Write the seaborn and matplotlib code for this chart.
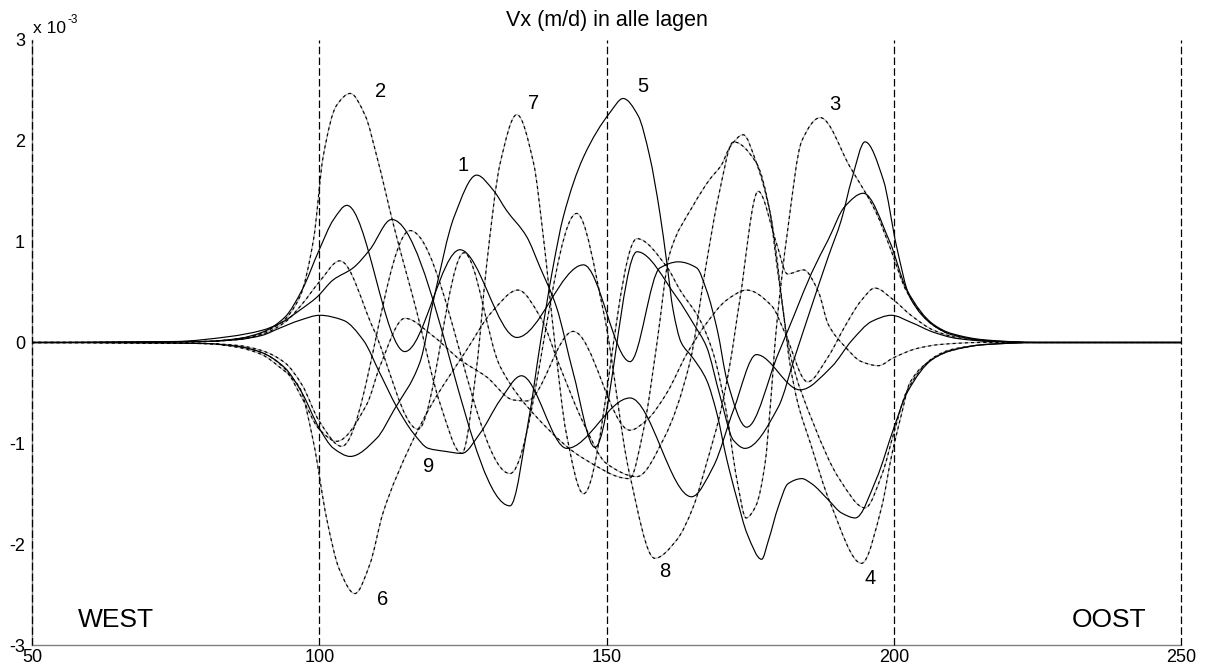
import numpy as np
import matplotlib
matplotlib.use("Agg")
import matplotlib.pyplot as plt
from matplotlib.path import Path
from matplotlib.patches import PathPatch
import seaborn as sns

# ---------------- data (Vx in units of 1e-3 m/d), knots ----------------
x_c9 = [50, 80, 86, 90, 93, 96.6, 100.1, 104.2, 107.7, 110.6, 113.5, 116.4, 119, 122, 124.8, 128, 131.5,
        135.2, 143.1, 154.1, 164.8, 168.6, 172.1, 176.1, 183.7, 189.2, 192.7, 196.2, 199.6, 203, 207, 211, 217, 225, 250]
y_c9 = [0, 0.01, 0.03, 0.07, 0.14, 0.22, 0.27, 0.22, 0.02, -0.31, -0.64, -0.90, -1.05, -1.08, -1.10, -0.90, -0.57,
        -0.33, -1.05, -0.55, -1.53, -1.23, -0.67, -0.12, -0.47, -0.24, 0.02, 0.21, 0.27, 0.2, 0.1, 0.04, 0.01, 0, 0]

x_c2 = [50, 80, 87.4, 93.2, 96.6, 99, 100.7, 103, 105.4, 108, 110, 113, 117, 121, 124.8, 127.4, 129.1, 131.5, 134.4,
        137.3, 139, 141, 143, 146, 155.3, 160.5, 162.8, 166.3, 168.6, 170.9, 172.7, 174.3, 176, 177.6, 178.5, 179.5, 181.5,
        184, 187.2, 192.4, 197, 199.3, 202.3, 206.9, 210, 216, 225, 250]
y_c2 = [0, 0.01, 0.05, 0.19, 0.45, 1.02, 1.85, 2.35, 2.47, 2.25, 1.85, 1.15, 0.3, -0.6, -1.10, -0.24, 0.75, 1.78, 2.26,
        1.78, 1.05, 0.0, -0.9, -1.50, 1.03, 0.75, 0.52, 0.22, -0.11, -0.70, -1.36, -1.74, -1.62, -1.2, -0.64, 0.1, 1.1,
        2.0, 2.23, 1.74, 1.28, 0.95, 0.5, 0.17, 0.08, 0.02, 0, 0]

x_c6 = [50, 80, 86, 90, 93, 96.6, 99, 101.3, 103.5, 106.2, 108.8, 111.1, 115.8, 119.3, 125.7, 130, 134.6, 138.5, 141.9,
        146, 150, 155.3, 160, 164.5, 167.4, 169.5, 172.1, 176.1, 178.5, 179.6, 180.8, 181.9, 183.3, 185.5, 189, 194.4,
        197.9, 199.6, 201.4, 202.8, 206.9, 210, 216, 225, 250]
y_c6 = [0, -0.01, -0.05, -0.12, -0.24, -0.45, -0.99, -1.75, -2.25, -2.49, -2.2, -1.69, -1.03, -0.64, -0.07, 0.3, 0.52, 0.25, -0.24,
        -0.8, -1.2, -1.33, -0.95, -0.2, 0.79, 1.45, 1.99, 1.78, 1.28, 0.79, 0.29, -0.2, -0.6, -1.0, -1.6, -2.19,
        -1.63, -1.13, -0.70, -0.40, -0.16, -0.08, -0.02, 0, 0]

x_c4 = [50, 80, 86, 90, 94, 97, 100, 103.9, 115.8, 133.2, 144.8, 149.5, 154, 158.4, 162.2, 165.1, 167.4, 169.8, 171.5,
        173.2, 176.4, 179.5, 181.5, 184.3, 186.9, 188.6, 191.5, 194.4, 197.3, 200, 204, 208, 215, 250]
y_c4 = [0, -0.01, -0.03, -0.08, -0.2, -0.42, -0.78, -1.03, 1.11, -1.30, 1.28, 0.3, -1.3, -2.14, -1.96, -1.63, -1.20, -0.70, -0.21,
        0.42, 1.50, 1.0, 0.68, 0.72, 0.50, 0.18, -0.04, -0.19, -0.23, -0.15, -0.06, -0.02, 0, 0]

x_c3 = [50, 80, 86, 90, 94, 97, 100, 102.5, 104.8, 114.9, 124.5, 134.4, 146, 154.1, 159.3, 162.5, 165.7, 167.4, 169.3,
        171, 174.4, 179.9, 182.8, 185.7, 188.6, 191.5, 194.7, 199.3, 202.3, 206.9, 210, 216, 225, 250]
y_c3 = [0, 0.01, 0.04, 0.1, 0.25, 0.52, 0.92, 1.22, 1.36, -0.09, 0.92, 0.05, 0.77, -0.19, 0.74, 0.80, 0.74, 0.52, 0.12,
        -0.38, -0.84, -0.11, 0.29, 0.69, 1.02, 1.35, 1.48, 1.0, 0.52, 0.18, 0.09, 0.025, 0, 0]

x_c8 = [50, 80, 86, 90, 94, 97, 100, 103, 108.3, 110.6, 114.9, 119.9, 124.5, 129.1, 133.8, 136.1, 144.2, 154.1, 157, 160.5,
        164, 167.4, 170.9, 174.4, 178.8, 181.1, 185, 188.6, 191.5, 194.4, 196.7, 200, 203, 207, 211, 217, 225, 250]
y_c8 = [0, -0.01, -0.04, -0.1, -0.26, -0.55, -0.86, -0.98, -0.61, -0.23, 0.24, 0.06, -0.17, -0.34, -0.57, -0.58, 0.11, -0.87, -0.77, -0.50,
        -0.11, 0.19, 0.42, 0.52, 0.36, 0.09, -0.39, -0.14, 0.16, 0.42, 0.54, 0.42, 0.27, 0.12, 0.05, 0.01, 0, 0]

x_c7 = [50, 80, 86, 90, 94, 97, 100, 103.6, 109.4, 117.2, 125.2, 131.5, 138, 146, 154, 156.5, 158.7, 161, 165, 168,
        170, 171.5, 173.8, 176.1, 178.5, 181.9, 186, 190.5, 195, 198, 200, 202.3, 206.9, 210, 216, 225, 250]
y_c7 = [0, 0.01, 0.03, 0.08, 0.2, 0.38, 0.6, 0.81, 0.14, -0.86, 0.89, -0.24, -0.75, -1.15, -1.35, -0.85, -0.04, 0.88, 1.35, 1.62,
        1.76, 1.94, 2.06, 1.78, 1.28, -0.1, -0.8, -1.35, -1.64, -1.3, -0.9, -0.48, -0.15, -0.07, -0.02, 0, 0]

x_c1 = [50, 80, 86, 90, 94, 97, 100, 102.5, 105.4, 110, 113, 117.5, 120, 123.5, 127.4, 130.3, 132.6, 136.1, 138.4, 141.3,
        144.2, 148, 155.3, 162.2, 165.1, 167.4, 169.8, 172.1, 174.1, 179.9, 182.8, 185.7, 188.6, 190.9, 192.7, 195,
        198.2, 200.5, 202.8, 206.9, 210, 216, 225, 250]
y_c1 = [0, -0.01, -0.04, -0.1, -0.25, -0.5, -0.85, -1.05, -1.13, -0.95, -0.67, -0.2, 0.45, 1.25, 1.66, 1.51, 1.31, 1.05, 0.75, 0.35,
        -0.3, -1.04, 0.90, 0.45, 0.19, -0.04, -0.54, -0.97, -1.05, -0.64, -0.14, 0.36, 0.85, 1.22, 1.62, 1.99,
        1.61, 0.95, 0.45, 0.17, 0.08, 0.02, 0, 0]

x_c5 = [50, 75, 84.5, 90, 93.2, 96.6, 99.6, 102.4, 105.9, 108.8, 112.6, 133.2, 136.5, 138.5, 140.7, 142.5, 146, 150.6, 152.9,
        155.5, 157.5, 159.3, 160.5, 161.6, 163, 165, 167.4, 169.2, 170.9, 172.7, 174.5, 177, 178.2, 179.9, 181.6, 184, 185.7, 188.6,
        190.9, 193.3, 197, 200, 202.3, 206.9, 210, 216, 225, 250]
y_c5 = [0, 0.01, 0.06, 0.12, 0.19, 0.32, 0.45, 0.62, 0.74, 0.92, 1.22, -1.62, -0.75, 0.0, 0.75, 1.25, 1.84, 2.28, 2.42,
        2.25, 1.85, 1.28, 0.79, 0.32, 0.0, -0.15, -0.37, -0.7, -1.15, -1.55, -1.9, -2.15, -1.96, -1.63, -1.40, -1.35, -1.40, -1.56,
        -1.69, -1.74, -1.35, -0.85, -0.5, -0.16, -0.08, -0.02, 0, 0]

curve_x = [x_c1, x_c2, x_c3, x_c4, x_c5, x_c6, x_c7, x_c8, x_c9]
curve_y = [y_c1, y_c2, y_c3, y_c4, y_c5, y_c6, y_c7, y_c8, y_c9]
curve_dashed = [False, True, False, True, False, True, True, True, False]

layer_labels = ["1", "2", "3", "4", "5", "6", "7", "8", "9"]
label_x = [125.1, 110.6, 189.8, 195.9, 156.4, 111.1, 137.3, 160.2, 119.0]
label_y = [1.76, 2.49, 2.36, -2.34, 2.54, -2.55, 2.37, -2.27, -1.23]

x_ticks = [50, 100, 150, 200, 250]
y_ticks = [-3, -2, -1, 0, 1, 2, 3]
divider_x = [50, 100, 150, 200, 250]
title_text = "Vx (m/d) in alle lagen"


def smooth_path(xs, ys):
    """Monotone cubic (PCHIP-style) Bezier path through the knots."""
    x = np.asarray(xs, float)
    y = np.asarray(ys, float)
    h = np.diff(x)
    d = np.diff(y) / h
    m = np.zeros(len(x))
    for i in range(1, len(x) - 1):
        if d[i - 1] * d[i] > 0:
            w1 = 2 * h[i] + h[i - 1]
            w2 = h[i] + 2 * h[i - 1]
            m[i] = (w1 + w2) / (w1 / d[i - 1] + w2 / d[i])
    verts = [(x[0], y[0])]
    codes = [Path.MOVETO]
    for i in range(len(x) - 1):
        verts += [(x[i] + h[i] / 3, y[i] + m[i] * h[i] / 3),
                  (x[i + 1] - h[i] / 3, y[i + 1] - m[i + 1] * h[i] / 3),
                  (x[i + 1], y[i + 1])]
        codes += [Path.CURVE4] * 3
    return Path(verts, codes)


sns.set_theme(style="white")
plt.rcParams['font.family'] = ['Liberation Sans', 'DejaVu Sans']
plt.rcParams['text.color'] = 'black'
plt.rcParams['axes.titlecolor'] = 'black'

W, H = 1205, 668
fig = plt.figure(figsize=(W / 100, H / 100), dpi=100)
ax = fig.add_axes([32 / W, 23 / H, (1181 - 32) / W, (645 - 40) / H])
ax.set_xlim(50, 250)
ax.set_ylim(-3, 3)

for xs, ys, dashed in zip(curve_x, curve_y, curve_dashed):
    p = smooth_path(xs, ys)
    if dashed:
        ax.add_patch(PathPatch(p, fill=False, edgecolor="#b2b2b2", lw=0.85, zorder=2))
        ax.add_patch(PathPatch(p, fill=False, edgecolor="black", lw=0.85,
                               linestyle=(0, (2.6, 2.6)), zorder=3))
    else:
        ax.add_patch(PathPatch(p, fill=False, edgecolor="black", lw=0.85, zorder=3))

for xv in divider_x:
    ax.axvline(xv, color="black", lw=0.9, linestyle=(0, (6, 2.6)), zorder=4, clip_on=False)

for t, lx, ly in zip(layer_labels, label_x, label_y):
    ax.text(lx, ly, t, fontsize=14.5, ha="center", va="center", color="black")

ax.text(58.0, -2.75, "WEST", fontsize=19, ha="left", va="center", color="black")
ax.text(231.0, -2.75, "OOST", fontsize=19, ha="left", va="center", color="black")

ax.set_xticks(x_ticks)
ax.set_yticks(y_ticks)
ax.set_xticklabels([str(v) for v in x_ticks])
ax.set_yticklabels([str(v) for v in y_ticks])
ax.tick_params(axis="both", direction="in", length=8, width=0.8, color="#808080",
               labelsize=13, labelcolor="black")
ax.tick_params(axis="x", pad=3)
ax.tick_params(axis="y", pad=5)

for side in ["top", "right"]:
    ax.spines[side].set_visible(False)
for side in ["left", "bottom"]:
    ax.spines[side].set_color("#808080")
    ax.spines[side].set_linewidth(1.0)

ax.set_title(title_text, fontsize=15.5, pad=10, color="black")

fig.text(33 / W, 1 - 33 / H, "x 10", fontsize=12.5, ha="left", va="baseline", color="black")
fig.text(68 / W, 1 - 23 / H, "-3", fontsize=8.5, ha="left", va="baseline", color="black")

fig.savefig("out.png", dpi=100)
